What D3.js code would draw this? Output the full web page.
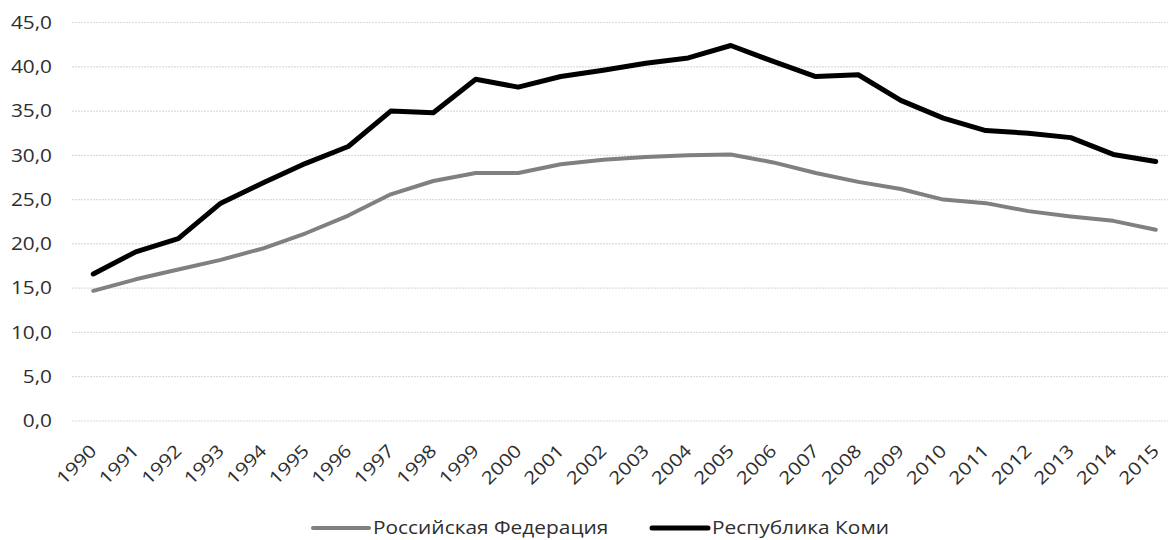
<!DOCTYPE html>
<html>
<head>
<meta charset="utf-8">
<script src="https://cdn.jsdelivr.net/npm/d3@7"></script>
<style>
  html, body { margin: 0; padding: 0; background: #fff; }
  svg { display: block; }
  text { font-family: "Open Sans", sans-serif; fill: #2e2e2e; }
</style>
</head>
<body>
<svg id="chart" width="1168" height="540"></svg>
<script>
const years = ["1990","1991","1992","1993","1994","1995","1996","1997","1998","1999","2000","2001","2002","2003","2004","2005","2006","2007","2008","2009","2010","2011","2012","2013","2014","2015"];
const rfValues = [14.7,16.0,17.1,18.2,19.5,21.2,23.2,25.6,27.1,28.0,28.0,29.0,29.5,29.8,30.0,30.1,29.2,28.0,27.0,26.2,25.0,24.6,23.7,23.1,22.6,21.6];
const komiValues = [16.6,19.1,20.6,24.6,26.9,29.1,31.0,35.0,34.8,38.6,37.7,38.9,39.6,40.4,41.0,42.4,40.6,38.9,39.1,36.2,34.2,32.8,32.5,32.0,30.1,29.3];
const yTicks = [0,5,10,15,20,25,30,35,40,45];
const seriesNames = ["Российская Федерация","Республика Коми"];
const seriesColors = ["#808080","#000000"];

(function () {
const svg = d3.select("#chart");
const pLeft = 72, pRight = 1177, pTop = 22.5, pBottom = 421;
const SX = 1.17;

const x = d3.scalePoint().domain(years).range([pLeft, pRight]).padding(0.5);
const y = d3.scaleLinear().domain([0,45]).range([pBottom, pTop]);
const fmt = v => d3.format(".1f")(v).replace(".", ",");

// gridlines
svg.append("g").selectAll("line").data(yTicks).join("line")
  .attr("x1", pLeft).attr("x2", pRight)
  .attr("y1", d => y(d)).attr("y2", d => y(d))
  .attr("stroke", "#dcdcdc").attr("stroke-width", 1.2)
  .attr("stroke-dasharray", "2,1");

// y labels
svg.append("g").selectAll("text").data(yTicks).join("text")
  .attr("transform", d => `translate(52,${y(d)}) scale(${SX},1)`)
  .attr("dy", "0.35em")
  .attr("text-anchor", "end")
  .style("font-size", "17.8px")
  .text(fmt);

// x axis labels
const xAxis = d3.axisBottom(x).tickSize(0).tickPadding(0);
const gx = svg.append("g").attr("transform", `translate(0,${pBottom})`).call(xAxis);
gx.select(".domain").remove();
gx.selectAll("text")
  .attr("y", 0).attr("dy", 0)
  .attr("transform", "translate(4,31) rotate(-45) scale(" + SX + ",1)")
  .attr("text-anchor", "end")
  .style("font-size", "17.8px")
  .style("font-family", "'Open Sans', sans-serif")
  .attr("fill", "#2e2e2e");

// lines
const line = d3.line().x((d,i) => x(years[i])).y(d => y(d));
const data = [rfValues, komiValues];
const widths = [4, 5];
svg.append("g").selectAll("path").data(data).join("path")
  .attr("d", line)
  .attr("fill", "none")
  .attr("stroke", (d,i) => seriesColors[i])
  .attr("stroke-width", (d,i) => widths[i])
  .attr("stroke-linejoin", "round")
  .attr("stroke-linecap", "round");

// legend
const legendX = [313, 652];
const lg = svg.append("g").selectAll("g").data(seriesNames).join("g")
  .attr("transform", (d,i) => `translate(${legendX[i]},528)`);
lg.append("line").attr("x1", 0).attr("x2", 56).attr("y1", 0).attr("y2", 0)
  .attr("stroke", (d,i) => seriesColors[i])
  .attr("stroke-width", (d,i) => widths[i])
  .attr("stroke-linecap", "round");
lg.append("text")
  .attr("transform", `translate(60,6) scale(1.16,1)`)
  .style("font-size", "18px")
  .text(d => d);
})();
</script>
</body>
</html>
